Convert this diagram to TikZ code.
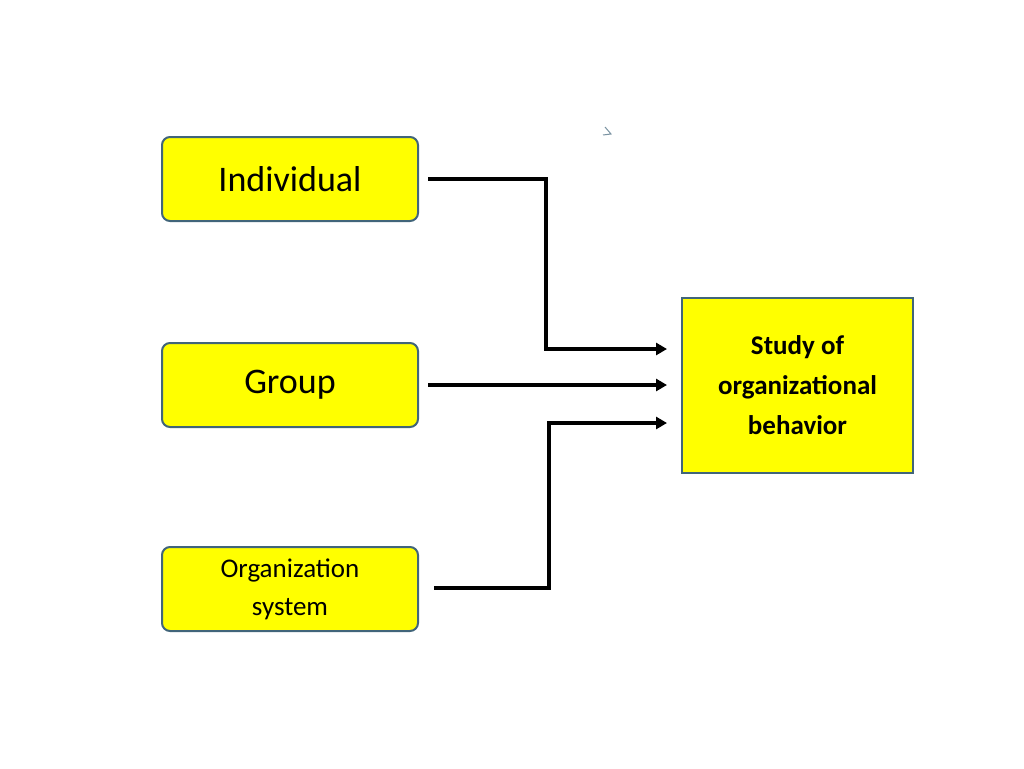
\documentclass[tikz,border=0pt]{standalone}
\usepackage{fontspec}
\setmainfont{Carlito}
\usetikzlibrary{arrows.meta}
\definecolor{boxline}{HTML}{41657A}
\definecolor{ylw}{HTML}{FFFF00}
\begin{document}
\begin{tikzpicture}[x=1pt,y=-1pt,
  ybox/.style={draw=boxline,line width=2pt,fill=ylw,rounded corners=8pt,minimum width=256pt,minimum height=84pt,align=center,inner sep=0pt},
  conn/.style={line width=3.5pt,-{Triangle[length=11pt,width=12pt]}}]
\useasboundingbox[fill=white] (0,0) rectangle (1024,768);
\node[ybox,font=\fontsize{36}{40}\selectfont] (ind) at (290,179) {Individual};
\node[ybox,font=\fontsize{36}{40}\selectfont] (grp) at (290,385) {Group};
\node[ybox,font=\fontsize{27}{38}\selectfont] (org) at (290,589) {Organization\\system};
\node[draw=boxline,line width=2pt,fill=ylw,minimum width=231pt,minimum height=175pt,align=center,inner sep=0pt,font=\bfseries\fontsize{27}{40}\selectfont] (sob) at (797.5,385.5) {Study of\\organizational\\behavior};
\coordinate (a1) at (428,179);
\coordinate (b1) at (546,179);
\coordinate (c1) at (546,349);
\coordinate (e1) at (667,349);
\coordinate (a2) at (428,385);
\coordinate (e2) at (667,385);
\coordinate (a3) at (434,588);
\coordinate (b3) at (549,588);
\coordinate (c3) at (549,423);
\coordinate (e3) at (667,423);
\draw[conn] (a1) -- (b1) -- (c1) -- (e1);
\draw[conn] (a2) -- (e2);
\draw[conn] (a3) -- (b3) -- (c3) -- (e3);
\draw[boxline!70,line width=1pt] (605,127) -- (611,134) -- (603,135);
\end{tikzpicture}
\end{document}
